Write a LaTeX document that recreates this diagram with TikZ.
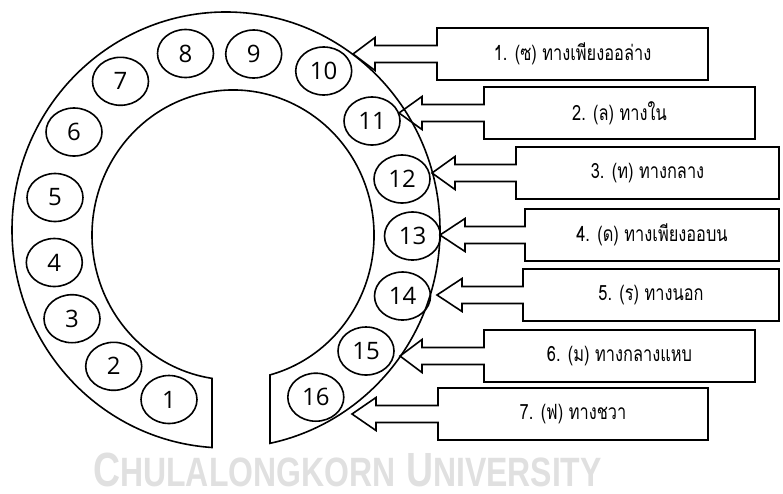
\documentclass[tikz,border=0pt]{standalone}
\usepackage{fontspec}
\usepackage{graphicx}
\setmainfont{Liberation Sans}
\newfontfamily\thaifont[Script=Thai]{Loma}
\newfontfamily\digitfont{Open Sans}
\usetikzlibrary{shapes.geometric}
\tikzset{
  line/.style={draw=black, line width=1.6pt, line join=miter},
  num/.style={line, ellipse, minimum width=56pt, minimum height=48pt, inner sep=0pt,
    font=\digitfont\fontsize{24}{24}\selectfont},
  lab/.style={font=\thaifont\fontsize{21}{21}\selectfont, inner sep=0pt},
  wm/.style={text=black!12, inner sep=0pt, font=\bfseries}
}
\newcommand\callout[7]{%
  \draw[line] (#5,#2-26) -- (#5,#2-8.5) -- (#4,#2-8.5) -- (#4,#2-16.5) -- (#3,#2)
     -- (#4,#2+16.5) -- (#4,#2+8.5) -- (#5,#2+8.5) -- (#5,#2+26) -- (#6,#2+26)
     -- (#6,#2-26) -- cycle;
  \node[lab] (#1) at ({(#5+#6)/2},#2) {\scalebox{0.78}[1]{#7}};
}
\begin{document}
\begin{tikzpicture}[x=1pt,y=-1pt]
\useasboundingbox (0,0) rectangle (783,493);
% watermark
\node[wm, anchor=base west] (wmark) at (93,486) {\scalebox{0.78}[1]{\fontsize{48}{48}\selectfont C{\fontsize{41}{41}\selectfont HULALONGKORN} U{\fontsize{41}{41}\selectfont NIVERSITY}}};
% ring
\draw[line] (212,447.5) arc[start angle=93.75, end angle=438.13, x radius=214, y radius=218]
  -- (270,374.9) arc[start angle=74.79, end angle=-261.43, x radius=141, y radius=145] -- cycle;
% numbered positions
\node[num] (n1) at (169,399.5) {1};
\node[num] (n2) at (113.7,366.3) {2};
\node[num] (n3) at (72,318.7) {3};
\node[num] (n4) at (54.3,262.5) {4};
\node[num] (n5) at (55,197.5) {5};
\node[num] (n6) at (74,132) {6};
\node[num] (n7) at (120.5,81.3) {7};
\node[num] (n8) at (185.5,53.5) {8};
\node[num] (n9) at (253.7,54) {9};
\node[num] (n10) at (323.7,71) {10};
\node[num] (n11) at (372,121) {11};
\node[num] (n12) at (402,179) {12};
\node[num] (n13) at (412.5,236) {13};
\node[num] (n14) at (402.5,296) {14};
\node[num] (n15) at (366,351) {15};
\node[num] (n16) at (315.8,397.2) {16};
% callouts
\callout{c1}{54}{353}{375}{437}{708}{1. (ซ) ทางเพียงออล่าง}
\callout{c2}{113}{399}{422}{484}{755}{2. (ล) ทางใน}
\callout{c3}{173}{432}{455}{516}{779}{3. (ท) ทางกลาง}
\callout{c4}{235}{440}{465}{525}{779}{4. (ด) ทางเพียงออบน}
\callout{c5}{295}{437}{462}{523}{779}{5. (ร) ทางนอก}
\callout{c6}{356}{400}{422}{484}{755}{6. (ม) ทางกลางแหบ}
\callout{c7}{414}{352}{376}{438}{708}{7. (ฟ) ทางชวา}
\end{tikzpicture}
\end{document}
